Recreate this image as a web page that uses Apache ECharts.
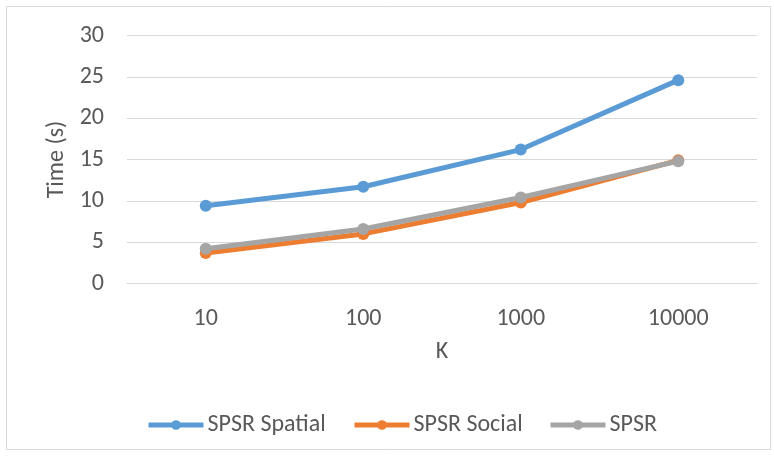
<!DOCTYPE html>
<html>
<head>
<meta charset="utf-8">
<script src="https://cdn.jsdelivr.net/npm/echarts@6/dist/echarts.min.js"></script>
<style>
  html, body { margin: 0; padding: 0; background: #fff; }
  #chart { width: 774px; height: 456px; }
</style>
</head>
<body>
<div id="chart"></div>
<script>
// K values on the x axis
const categories = ['10', '100', '1000', '10000'];
// Running time in seconds for each method
const spsrSpatial = [9.4, 11.7, 16.2, 24.6];
const spsrSocial = [3.7, 6.0, 9.8, 14.9];
const spsr = [4.2, 6.6, 10.4, 14.8];
const seriesNames = ['SPSR Spatial', 'SPSR Social', 'SPSR'];
const colors = ['#5B9BD5', '#ED7D31', '#A5A5A5'];

const font = 'Calibri, Carlito, "Open Sans", sans-serif';
const textColor = '#595959';
const fontSize = 24;

function lineSeries(name, data, color) {
  return {
    name: name,
    type: 'line',
    data: data,
    symbol: 'circle',
    symbolSize: 12,
    lineStyle: { width: 5, color: color },
    itemStyle: { color: color },
    emphasis: { disabled: true },
    animation: false
  };
}

// One legend entry per series, laid out left to right along the bottom
const legendLefts = [146, 352, 548];
function legendEntry(name, left) {
  return {
    data: [name],
    left: left,
    top: 413,
    padding: 0,
    itemWidth: 55,
    itemHeight: 12,
    lineStyle: { width: 5 },
    textStyle: { color: textColor, fontSize: fontSize, fontFamily: font, padding: [0, 0, 0, -1] },
    selectedMode: false
  };
}

const chart = echarts.init(document.getElementById('chart'), null, { renderer: 'canvas' });
chart.setOption({
  backgroundColor: '#ffffff',
  animation: false,
  graphic: [{
    type: 'rect',
    shape: { x: 6.5, y: 6.5, width: 764, height: 443 },
    style: { fill: 'none', stroke: '#D9D9D9', lineWidth: 1 },
    silent: true
  }],
  grid: { left: 127, right: 17, top: 35.5, bottom: 172.5 },
  xAxis: {
    type: 'category',
    data: categories,
    boundaryGap: true,
    name: 'K',
    nameLocation: 'middle',
    nameGap: 56,
    nameTextStyle: { color: textColor, fontSize: fontSize, fontFamily: font },
    axisLine: { lineStyle: { color: '#D9D9D9', width: 1 } },
    axisTick: { show: false },
    axisLabel: { color: textColor, fontSize: fontSize, fontFamily: font, margin: 23 }
  },
  yAxis: {
    type: 'value',
    min: 0,
    max: 30,
    interval: 5,
    name: 'Time (s)',
    nameLocation: 'middle',
    nameGap: 58,
    nameRotate: 90,
    nameTextStyle: { color: textColor, fontSize: fontSize, fontFamily: font },
    axisLine: { show: false },
    axisTick: { show: false },
    splitLine: { lineStyle: { color: '#D9D9D9', width: 1 } },
    axisLabel: { color: textColor, fontSize: fontSize, fontFamily: font, margin: 23 }
  },
  legend: seriesNames.map((name, i) => legendEntry(name, legendLefts[i])),
  series: [
    lineSeries(seriesNames[0], spsrSpatial, colors[0]),
    lineSeries(seriesNames[1], spsrSocial, colors[1]),
    lineSeries(seriesNames[2], spsr, colors[2])
  ]
});
</script>
</body>
</html>
